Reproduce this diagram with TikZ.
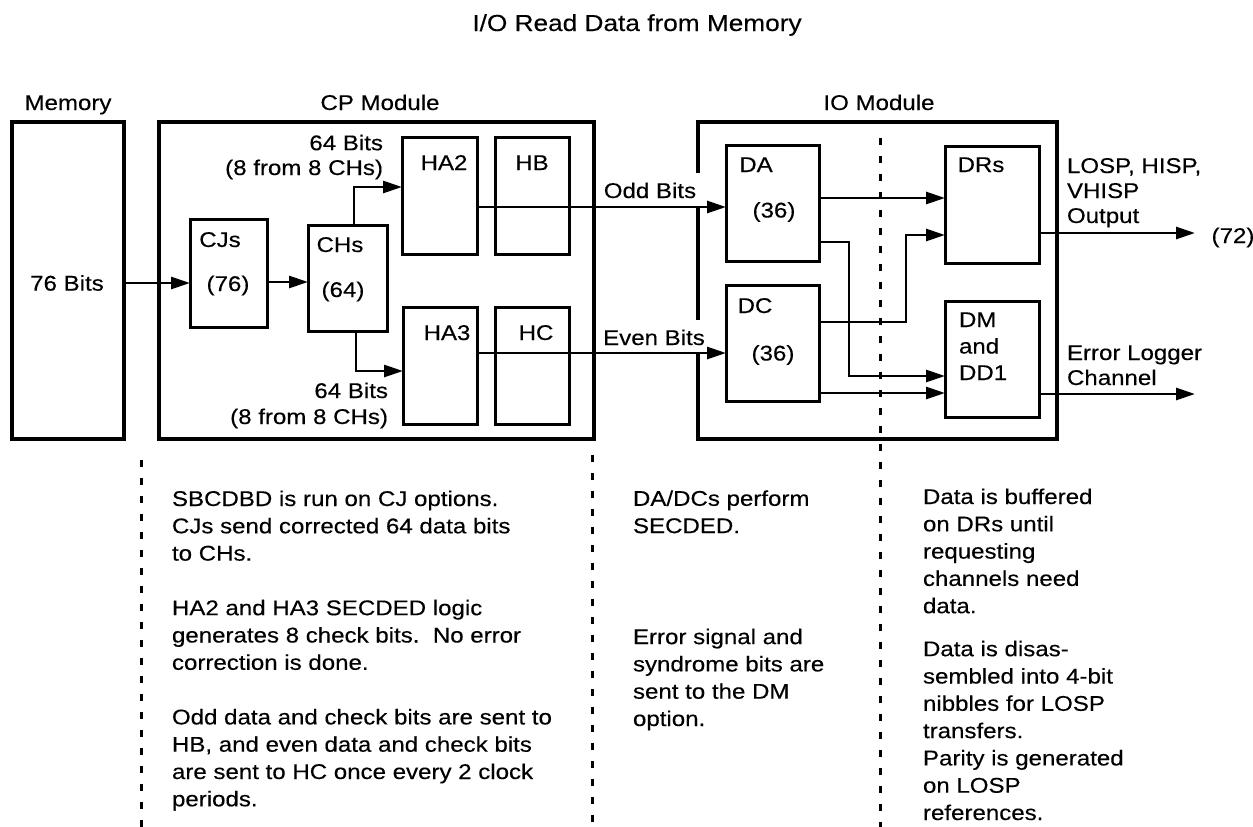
\documentclass[tikz,border=0pt]{standalone}
\usepackage{fontspec}
\setmainfont{Liberation Sans}[FakeStretch=1.13,FakeBold=0.3]
\usetikzlibrary{arrows.meta}
\newcommand{\lblsize}{\fontsize{21.3pt}{27.3pt}\selectfont}
\newcommand{\ttlsize}{\fontsize{23.2pt}{29pt}\selectfont}
\begin{document}
\begin{tikzpicture}[x=1pt,y=-1pt,
  module/.style={draw, line width=4pt, outer sep=0pt, inner sep=0pt, anchor=north west},
  blk/.style={draw, line width=3pt, outer sep=0pt, inner sep=0pt, anchor=north west},
  txt/.style={inner sep=0pt, outer sep=0pt, font=\lblsize},
  para/.style={txt, align=left, anchor=base west},
  wire/.style={line width=2.8pt},
  arr/.style={wire, -{Triangle[length=19pt,width=12pt]}},
  sep/.style={line width=3pt, dash pattern=on 7pt off 11pt}]
\fill[white] (0,0) rectangle (1253,827);
\useasboundingbox (0,0) rectangle (1253,827);

% title and headings
\node[txt, font=\ttlsize, anchor=base] (title) at (637,31) {I/O Read Data from Memory};
\node[txt, anchor=base] (hmem) at (68,110) {Memory};
\node[txt, anchor=base] (hcp) at (380,110) {CP Module};
\node[txt, anchor=base] (hio) at (879,110) {IO Module};

% modules
\node[module, minimum width=112pt, minimum height=317pt] (mem) at (12,122) {};
\node[module, minimum width=435pt, minimum height=317pt] (cp) at (159,122) {};
\draw[line width=3.5pt] (698,173) -- (698,122) -- (1057,122) -- (1057,439) -- (698,439) -- (698,353);
\draw[line width=3.5pt] (698,207) -- (698,320);

% blocks
\node[blk, minimum width=77pt, minimum height=108pt] (cj) at (190,219) {};
\node[blk, minimum width=79pt, minimum height=106pt] (ch) at (308,225) {};
\node[blk, minimum width=75pt, minimum height=117pt] (ha2) at (402,137) {};
\node[blk, minimum width=74pt, minimum height=117pt] (hb) at (495,137) {};
\node[blk, minimum width=74pt, minimum height=117pt] (ha3) at (403,307) {};
\node[blk, minimum width=74pt, minimum height=117pt] (hc) at (495,307) {};
\node[blk, minimum width=93pt, minimum height=116pt] (da) at (726,145) {};
\node[blk, minimum width=93pt, minimum height=116pt] (dc) at (726,285) {};
\node[blk, minimum width=94pt, minimum height=117pt] (drs) at (945,146) {};
\node[blk, minimum width=94pt, minimum height=116pt] (dm) at (945,301) {};

% block texts
\node[txt, anchor=base] (t76b) at (67,290.6) {76 Bits};
\node[txt, anchor=base] (tcj) at (220,247) {CJs};
\node[txt, anchor=base] (tcj2) at (228,291) {(76)};
\node[txt, anchor=base] (tch) at (340,252) {CHs};
\node[txt, anchor=base] (tch2) at (343,297) {(64)};
\node[txt, anchor=base] (tha2) at (444,170) {HA2};
\node[txt, anchor=base] (thb) at (532,170) {HB};
\node[txt, anchor=base] (tha3) at (447,340) {HA3};
\node[txt, anchor=base] (thc) at (536,340) {HC};
\node[txt, anchor=base] (tda) at (756,172) {DA};
\node[txt, anchor=base] (tda2) at (774,217.5) {(36)};
\node[txt, anchor=base] (tdc) at (755,313) {DC};
\node[txt, anchor=base] (tdc2) at (773,360.5) {(36)};
\node[txt, anchor=base] (tdrs) at (981,172) {DRs};
\node[txt, align=left, anchor=base west] (tdm) at (959,380) {DM\\[-0.8pt]and\\[-0.8pt]DD1};

% connector labels
\node[txt, align=right, anchor=base east] (l64a) at (383,175) {64 Bits\\[-2.5pt](8 from 8 CHs)};
\node[txt, align=right, anchor=base east] (l64b) at (388,424) {64 Bits\\[-1.3pt](8 from 8 CHs)};
\node[txt, anchor=base] (lodd) at (650,198) {Odd Bits};
\node[txt, anchor=base] (leven) at (654,345) {Even Bits};
\node[txt, align=left, anchor=base west] (llosp) at (1067,223) {LOSP, HISP,\\[-2.3pt]VHISP\\[-2.3pt]Output};
\node[txt, anchor=base] (l72) at (1233,243) {(72)};
\node[txt, align=left, anchor=base west] (lerr) at (1067,385) {Error Logger\\[-2.3pt]Channel};

% connectors
\draw[arr] (mem.east |- 0,283) -- (cj.west |- 0,283);
\draw[arr] (cj.east |- 0,282) -- (ch.west |- 0,282);
\draw[arr] (ch.north -| 354,0) |- (ha2.west |- 0,187);
\draw[arr] (ch.south -| 356,0) |- (ha3.west |- 0,371);
\draw[arr] (ha2.east |- 0,207) -- (da.west |- 0,207);
\draw[arr] (ha3.east |- 0,353) -- (dc.west |- 0,353);
\draw[arr] (da.east |- 0,198) -- (drs.west |- 0,198);
\draw[arr] (da.east |- 0,242) -| (849,376) -- (dm.west |- 0,376);
\draw[arr] (dc.east |- 0,322) -| (906,235) -- (drs.west |- 0,235);
\draw[arr] (dc.east |- 0,393) -- (dm.west |- 0,393);
\coordinate (out1) at (1195,233);
\coordinate (out2) at (1195,394);
\draw[arr] (drs.east |- out1) -- (out1);
\draw[arr] (dm.east |- out2) -- (out2);

% separators
\draw[sep] (141,460) -- (141,827);
\draw[sep] (592,455) -- (592,827);
\draw[sep] (880,138) -- (880,827);

% notes
\node[para] (n1) at (172,806.3) {SBCDBD is run on CJ options.\\CJs send corrected 64 data bits\\to CHs.\\[27.3pt]HA2 and HA3 SECDED logic\\generates 8 check bits.\ \ No error\\correction is done.\\[27.3pt]Odd data and check bits are sent to\\HB, and even data and check bits\\are sent to HC once every 2 clock\\periods.};
\node[para] (n2) at (633,726) {DA/DCs perform\\SECDED.\\[83.7pt]Error signal and\\syndrome bits are\\sent to the DM\\option.};
\node[para] (n3) at (923,820) {Data is buffered\\on DRs until\\requesting\\channels need\\data.\\[15.7pt]Data is disas-\\sembled into 4-bit\\nibbles for LOSP\\transfers.\\Parity is generated\\on LOSP\\references.};
\end{tikzpicture}
\end{document}
